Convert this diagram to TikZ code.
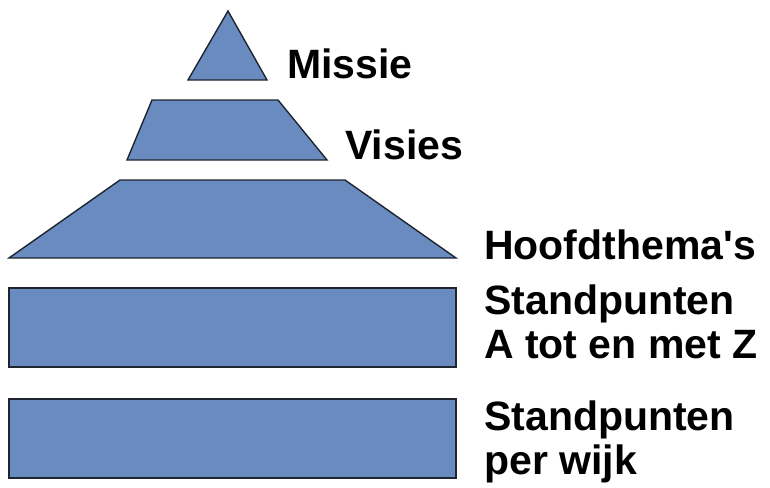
\documentclass[tikz,border=0pt]{standalone}
\usepackage{fontspec}
\setmainfont{Liberation Sans}
\definecolor{boxblue}{HTML}{6A8BC0}
\definecolor{edge}{HTML}{1E2530}
\begin{document}
\begin{tikzpicture}[x=1pt,y=-1pt,
  tier/.style={fill=boxblue,draw=edge,line width=1.4pt,line join=miter},
  lbl/.style={anchor=base west,inner sep=0pt,font=\fontsize{41}{44}\selectfont\bfseries,align=left}]
\useasboundingbox (0,0) rectangle (770,487);
\draw[tier] (228,11) -- (267,80) -- (188,80) -- cycle;
\draw[tier] (152,100) -- (278,100) -- (327,160) -- (127,160) -- cycle;
\draw[tier] (120,180) -- (345,180) -- (456,258) -- (9,258) -- cycle;
\draw[tier] (9,288) rectangle (456,367);
\draw[tier] (9,399) rectangle (456,478);
\node[lbl] (missie) at (287,78) {Missie};
\node[lbl] (visies) at (345,159) {Visies};
\node[lbl] (hoofd) at (484,259) {Hoofdthema\textquotesingle s};
\node[lbl] (stand1) at (484,358) {Standpunten\\A tot en met Z};
\node[lbl] (stand2) at (484,474) {Standpunten\\per wijk};
\end{tikzpicture}
\end{document}
